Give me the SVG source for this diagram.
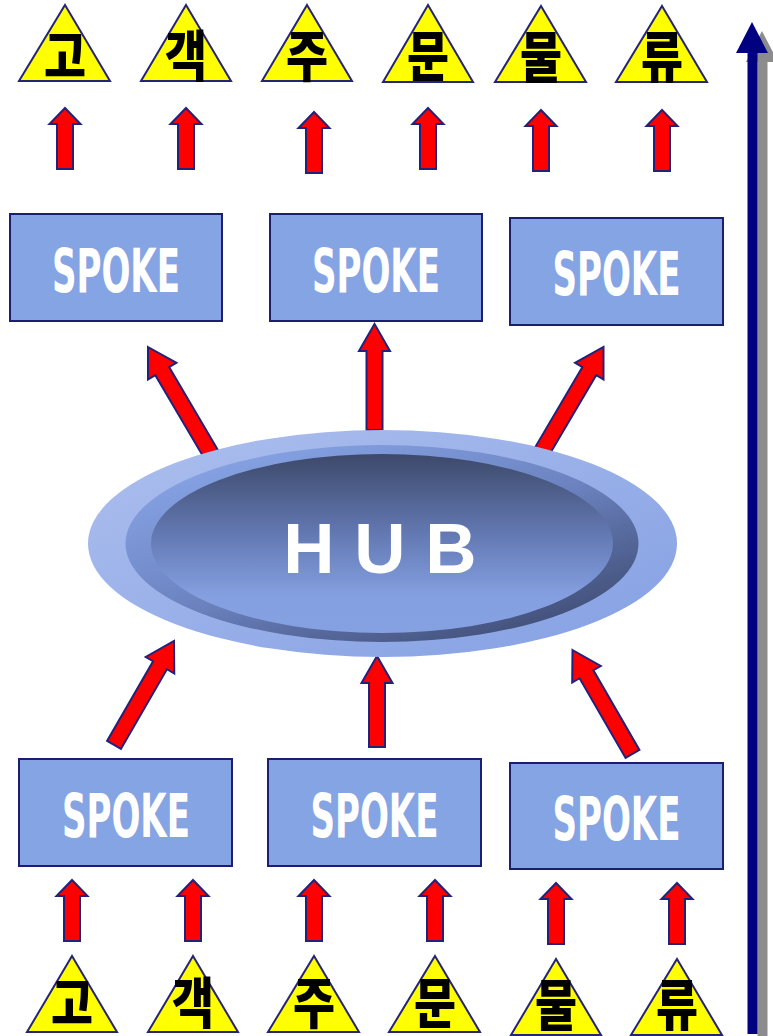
<svg xmlns="http://www.w3.org/2000/svg" width="773" height="1036" viewBox="0 0 773 1036">
  <defs>
    <style>
      .tri{fill:#ffff00;stroke:#24247a;stroke-width:2;stroke-linejoin:miter}
      .kr{font-family:"Noto Sans CJK KR","Noto Sans",sans-serif;font-weight:900;font-size:55px;fill:#000;text-anchor:middle}
      .box{fill:#85a4e3;stroke:#1e1e70;stroke-width:2}
      .spk{font-family:"DejaVu Sans Condensed","DejaVu Sans",sans-serif;font-weight:bold;font-size:60px;fill:#fff;text-anchor:middle}
      .arr{fill:#ff0000;stroke:#22227a;stroke-width:2;stroke-linejoin:miter}
      .hub{font-family:"Liberation Sans",Arial,sans-serif;font-weight:bold;font-size:71px;fill:#fff;text-anchor:middle}
    </style>
    <linearGradient id="g-outer" x1="0" y1="0" x2="1" y2="1">
      <stop offset="0" stop-color="#adbfee"/>
      <stop offset="1" stop-color="#84a0e3"/>
    </linearGradient>
    <linearGradient id="g-ring" x1="0.15" y1="0.1" x2="0.85" y2="0.95">
      <stop offset="0" stop-color="#86a2e3"/>
      <stop offset="0.5" stop-color="#6b82bf"/>
      <stop offset="1" stop-color="#3f4c74"/>
    </linearGradient>
    <linearGradient id="g-inner" x1="0" y1="0" x2="0" y2="1">
      <stop offset="0" stop-color="#3d496a"/>
      <stop offset="0.45" stop-color="#6379b3"/>
      <stop offset="0.8" stop-color="#85a0e1"/>
      <stop offset="1" stop-color="#86a1e2"/>
    </linearGradient>
    <!-- block arrows, tip at origin, pointing up -->
    <path id="a-small" class="arr" d="M0,0 L15.5,16 L8,16 L8,61 L-8,61 L-8,16 L-15.5,16 Z"/>
    <path id="a-diag" class="arr" d="M0,0 L16.5,28 L8,28 L8,124 L-8,124 L-8,28 L-16.5,28 Z"/>
    <path id="a-diag-b" class="arr" d="M0,0 L16.5,28 L8,28 L8,120 L-8,120 L-8,28 L-16.5,28 Z"/>
    <path id="a-mid-top" class="arr" d="M0,0 L15.5,27 L8,27 L8,106 L-8,106 L-8,27 L-15.5,27 Z"/>
    <path id="a-mid-bot" class="arr" d="M0,0 L15.5,27 L8,27 L8,91 L-8,91 L-8,27 L-15.5,27 Z"/>
  </defs>

  <rect width="773" height="1036" fill="#ffffff"/>

  <!-- vertical flow axis with drop shadow -->
  <g id="flow-axis">
    <path fill="#8c8c8c" d="M762,31 L778,62 L767.5,62 L767.5,1036 L757.5,1036 L757.5,62 L746,62 Z"/>
    <path fill="#000080" d="M752,22 L768,53 L757.5,53 L757.5,1034 L747.5,1034 L747.5,53 L736,53 Z"/>
  </g>

  <g id="connectors">
    <!-- top row: spokes to labels -->
    <use href="#a-small" x="65" y="108"/>
    <use href="#a-small" x="186" y="108"/>
    <use href="#a-small" x="314" y="112"/>
    <use href="#a-small" x="428" y="108"/>
    <use href="#a-small" x="541" y="110"/>
    <use href="#a-small" x="662" y="110"/>
    <!-- hub to upper spokes -->
    <use href="#a-diag" transform="translate(148,347) rotate(-30.5)"/>
    <use href="#a-mid-top" transform="translate(374.5,324)"/>
    <use href="#a-diag" transform="translate(603.5,347) rotate(30.5)"/>
    <!-- lower spokes to hub -->
    <use href="#a-diag-b" transform="translate(174,641) rotate(30)"/>
    <use href="#a-mid-bot" transform="translate(377,656)"/>
    <use href="#a-diag-b" transform="translate(572.5,650) rotate(-30)"/>
    <!-- bottom row: labels to spokes -->
    <use href="#a-small" x="72" y="880"/>
    <use href="#a-small" x="193" y="880"/>
    <use href="#a-small" x="314" y="880"/>
    <use href="#a-small" x="435" y="880"/>
    <use href="#a-small" x="556" y="883"/>
    <use href="#a-small" x="677" y="883"/>
  </g>

  <!-- top labels -->
  <g id="top-1"><polygon class="tri" points="65,5 110,81 19,81"/><text class="kr" x="65" y="76" textLength="42" lengthAdjust="spacingAndGlyphs">고</text></g>
  <g id="top-2"><polygon class="tri" points="186,5 231,81 141,81"/><text class="kr" x="186" y="76" textLength="42" lengthAdjust="spacingAndGlyphs">객</text></g>
  <g id="top-3"><polygon class="tri" points="307,5 352,81 262,81"/><text class="kr" x="307" y="76" textLength="42" lengthAdjust="spacingAndGlyphs">주</text></g>
  <g id="top-4"><polygon class="tri" points="428,5 473,82 383,82"/><text class="kr" x="428" y="76" textLength="42" lengthAdjust="spacingAndGlyphs">문</text></g>
  <g id="top-5"><polygon class="tri" points="541,6 586,82 495,82"/><text class="kr" x="541" y="77" textLength="42" lengthAdjust="spacingAndGlyphs">물</text></g>
  <g id="top-6"><polygon class="tri" points="662,6 707,82 616,82"/><text class="kr" x="662" y="77" textLength="42" lengthAdjust="spacingAndGlyphs">류</text></g>

  <!-- upper spokes -->
  <g id="spoke-top-1"><rect class="box" x="10" y="214" width="212" height="107"/><text class="spk" x="116" y="292" textLength="128" lengthAdjust="spacingAndGlyphs">SPOKE</text></g>
  <g id="spoke-top-2"><rect class="box" x="270" y="214" width="212" height="107"/><text class="spk" x="376" y="292" textLength="128" lengthAdjust="spacingAndGlyphs">SPOKE</text></g>
  <g id="spoke-top-3"><rect class="box" x="510" y="218" width="213" height="107"/><text class="spk" x="616.5" y="295" textLength="128" lengthAdjust="spacingAndGlyphs">SPOKE</text></g>

  <!-- hub -->
  <g id="hub">
    <ellipse cx="382.5" cy="543.5" rx="294.5" ry="113.5" fill="url(#g-outer)"/>
    <ellipse cx="382" cy="543.5" rx="256.5" ry="98.5" fill="url(#g-ring)"/>
    <ellipse cx="382" cy="543.5" rx="231" ry="89.5" fill="url(#g-inner)"/>
    <text class="hub" x="380" y="573">H U B</text>
  </g>

  <!-- lower spokes -->
  <g id="spoke-bot-1"><rect class="box" x="19" y="759" width="213" height="107"/><text class="spk" x="126" y="837" textLength="128" lengthAdjust="spacingAndGlyphs">SPOKE</text></g>
  <g id="spoke-bot-2"><rect class="box" x="268" y="759" width="213" height="107"/><text class="spk" x="374.5" y="837" textLength="128" lengthAdjust="spacingAndGlyphs">SPOKE</text></g>
  <g id="spoke-bot-3"><rect class="box" x="510" y="763" width="213" height="106"/><text class="spk" x="616.5" y="840" textLength="128" lengthAdjust="spacingAndGlyphs">SPOKE</text></g>

  <!-- bottom labels -->
  <g id="bot-1"><polygon class="tri" points="72,956 117,1032 27,1032"/><text class="kr" x="72" y="1023" textLength="42" lengthAdjust="spacingAndGlyphs">고</text></g>
  <g id="bot-2"><polygon class="tri" points="193,956 238,1032 148,1032"/><text class="kr" x="193" y="1023" textLength="42" lengthAdjust="spacingAndGlyphs">객</text></g>
  <g id="bot-3"><polygon class="tri" points="314,956 359,1032 268,1032"/><text class="kr" x="314" y="1023" textLength="42" lengthAdjust="spacingAndGlyphs">주</text></g>
  <g id="bot-4"><polygon class="tri" points="435,956 480,1032 389,1032"/><text class="kr" x="435" y="1023" textLength="42" lengthAdjust="spacingAndGlyphs">문</text></g>
  <g id="bot-5"><polygon class="tri" points="556,959 601,1035 511,1035"/><text class="kr" x="556" y="1025" textLength="42" lengthAdjust="spacingAndGlyphs">물</text></g>
  <g id="bot-6"><polygon class="tri" points="677,959 722,1035 631,1035"/><text class="kr" x="677" y="1025" textLength="42" lengthAdjust="spacingAndGlyphs">류</text></g>
</svg>
